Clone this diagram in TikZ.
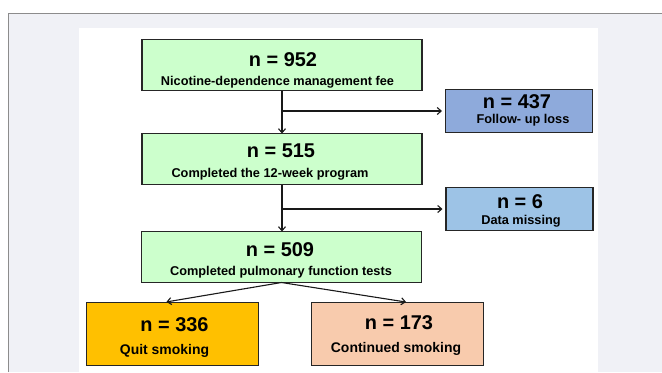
\documentclass[tikz,border=0pt]{standalone}
\usepackage{xcolor}
\usepackage{fontspec}
\setmainfont{Liberation Sans}
\usetikzlibrary{arrows.meta,backgrounds}
\definecolor{boxgreen}{HTML}{CCFFCC}
\definecolor{lossblue}{HTML}{8EAADB}
\definecolor{missblue}{HTML}{9DC3E6}
\definecolor{quitgold}{HTML}{FFC000}
\definecolor{contpeach}{HTML}{F8CBAD}
\definecolor{pagegray}{HTML}{F0F1F6}

\begin{document}
\begin{tikzpicture}
	[x=1bp,y=-1bp,every node/.style={inner sep=0pt,outer sep=0pt},
	box/.style={draw=black!85,line width=1.4bp},
	bigbox/.style={box,fill=boxgreen,minimum width=280bp,minimum height=51bp},
	sidebox/.style={box,minimum width=147bp,minimum height=43bp},
	endbox/.style={box,minimum width=172bp,minimum height=63bp},
	num/.style={anchor=base,font=\bfseries\fontsize{20}{24}\selectfont},
	sub/.style={anchor=base,font=\bfseries\fontsize{12.8}{15}\selectfont},
	endsub/.style={anchor=base,font=\bfseries\fontsize{14}{17}\selectfont},
	every edge/.style={draw,black!90,line width=1.1bp,-{Straight Barb[length=4bp,width=7bp]}}]

	\useasboundingbox (0,0) rectangle (662,372);

	\begin{pgfonlayer}{background}
		\fill[white] (0,0) rectangle (662,372);
		\fill[pagegray] (8,13) rectangle (662,372);
		\draw[black!45,line width=0.9bp] (8,372) -- (8,13) -- (662,13);
		\fill[white] (79,28) rectangle (598,372);
	\end{pgfonlayer}

	\node[bigbox] (b952) at (282,65) {};
	\node[bigbox] (b515) at (282,159) {};
	\node[bigbox] (b509) at (281.5,257) {};
	\node[sidebox,fill=lossblue] (b437) at (519,111) {};
	\node[sidebox,fill=missblue] (b6) at (519.5,209) {};
	\node[endbox,fill=quitgold] (b336) at (172.5,334) {};
	\node[endbox,fill=contpeach] (b173) at (397.5,334) {};

	\node[num] (n952) at (283,66) {n = 952};
	\node[sub] (s952) at (277.5,85) {Nicotine-dependence management fee};
	\node[num] (n515) at (281,157) {n = 515};
	\node[sub] (s515) at (270,177) {Completed the 12-week program};
	\node[num] (n509) at (280,256.5) {n = 509};
	\node[sub] (s509) at (281,275.5) {Completed pulmonary function tests};
	\node[num] (n437) at (517,108) {n = 437};
	\node[sub] (s437) at (523,123) {Follow- up loss};
	\node[num] (n6) at (520,208.5) {n = 6};
	\node[sub] (s6) at (521,224.5) {Data missing};
	\node[num] (n336) at (174.5,331) {n = 336};
	\node[endsub] (s336) at (164.5,354) {Quit smoking};
	\node[num] (n173) at (399,329.5) {n = 173};
	\node[endsub] (s173) at (396,352.5) {Continued smoking};

	\coordinate (j1) at (282,111);
	\coordinate (j2) at (282,209);

	\path (b952.south) edge (b515.north);
	\path (j1) edge[shorten >=3.5bp] (b437.west);
	\path (b515.south) edge (b515.south |- b509.north);
	\path (j2) edge[shorten >=3.5bp] (b6.west);
	\path (b509.south) edge[shorten >=3.5bp] ([xshift=-9.5bp]b336.north);
	\path (b509.south) edge[shorten >=3bp] ([xshift=11.5bp]b173.north);
\end{tikzpicture}
\end{document}
